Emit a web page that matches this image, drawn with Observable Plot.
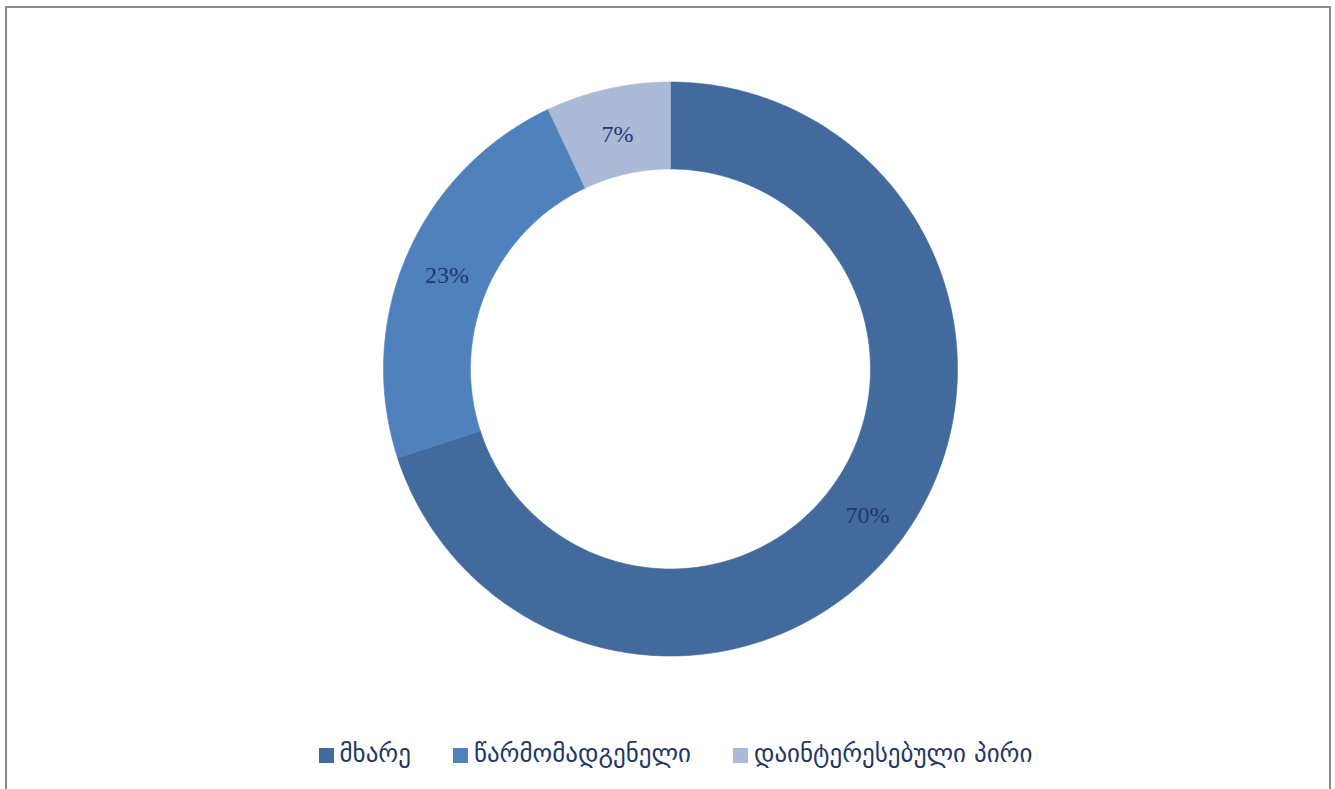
<!DOCTYPE html>
<html>
<head>
<meta charset="utf-8">
<script src="https://cdn.jsdelivr.net/npm/d3@7"></script>
<script src="https://cdn.jsdelivr.net/npm/@observablehq/plot@0.6"></script>
<style>
  html, body { margin: 0; padding: 0; background: #fff; }
  #wrap { position: relative; width: 1335px; height: 789px; overflow: hidden; }
  #frame { position: absolute; left: 5px; top: 6px; width: 1326px; height: 800px;
           border: 2px solid #8b8b8b; box-sizing: border-box; }
  #chart { position: absolute; left: 0; top: 0; }
  #legend { position: absolute; left: 0; top: 739px; width: 1335px; height: 30px; display: flex;
            box-sizing: border-box; padding-left: 16px;
            justify-content: center; align-items: center; gap: 42px; line-height: 30px;
            font-family: "DejaVu Sans", "Noto Sans", sans-serif; font-size: 25px; color: #1f3864; }
  .item { display: flex; align-items: center; }
  .sw { width: 15px; height: 15px; margin-right: 6px; margin-top: 2px; }
</style>
</head>
<body>
<div id="wrap">
  <div id="frame"></div>
  <div id="chart"></div>
  <div id="legend"></div>
</div>
<script>
const categories = ["მხარე", "წარმომადგენელი", "დაინტერესებული პირი"];
const values = [70, 23, 7];
const colors = ["#426a9c", "#4f81bd", "#aabad7"];

const innerRatio = 200 / 287;
const total = d3.sum(values);

// Build slice polygons in unit (polar) coordinates from the values
const pieLayout = d3.pie().sort(null).value(d => d.value);
const arcs = pieLayout(categories.map((c, i) => ({category: c, value: values[i]})));
const poly = [];
const labels = [];
arcs.forEach(a => {
  const n = 240;
  for (let k = 0; k <= n; k++) {
    const t = a.startAngle + (a.endAngle - a.startAngle) * k / n;
    poly.push({category: a.data.category, x: Math.sin(t), y: Math.cos(t)});
  }
  for (let k = n; k >= 0; k--) {
    const t = a.startAngle + (a.endAngle - a.startAngle) * k / n;
    poly.push({category: a.data.category, x: innerRatio * Math.sin(t), y: innerRatio * Math.cos(t)});
  }
  const mid = (a.startAngle + a.endAngle) / 2;
  const r = (1 + innerRatio) / 2;
  labels.push({x: r * Math.sin(mid), y: r * Math.cos(mid), text: Math.round(a.data.value / total * 100) + "%"});
});

const cx = 670, cy = 368.5, R = 287;
const plot = Plot.plot({
  width: 1335,
  height: 730,
  margin: 0,
  x: {domain: [-1, 1], range: [cx - R, cx + R], axis: null},
  y: {domain: [-1, 1], range: [cy + R, cy - R], axis: null},
  color: {domain: categories, range: colors},
  marks: [
    Plot.line(poly, {x: "x", y: "y", z: "category", fill: "category", stroke: "category",
                     strokeWidth: 0.6, curve: "linear-closed"}),
    Plot.text(labels, {x: "x", y: "y", text: "text", fill: "#1f3a6e", dy: 3,
                       fontSize: 24, fontFamily: "'Liberation Serif', 'DejaVu Serif', serif"})
  ]
});
document.getElementById("chart").appendChild(plot);

const legend = document.getElementById("legend");
categories.forEach((c, i) => {
  const item = document.createElement("div");
  item.className = "item";
  const sw = document.createElement("div");
  sw.className = "sw";
  sw.style.background = colors[i];
  const tx = document.createElement("span");
  tx.textContent = c;
  item.appendChild(sw);
  item.appendChild(tx);
  legend.appendChild(item);
});
</script>
</body>
</html>
